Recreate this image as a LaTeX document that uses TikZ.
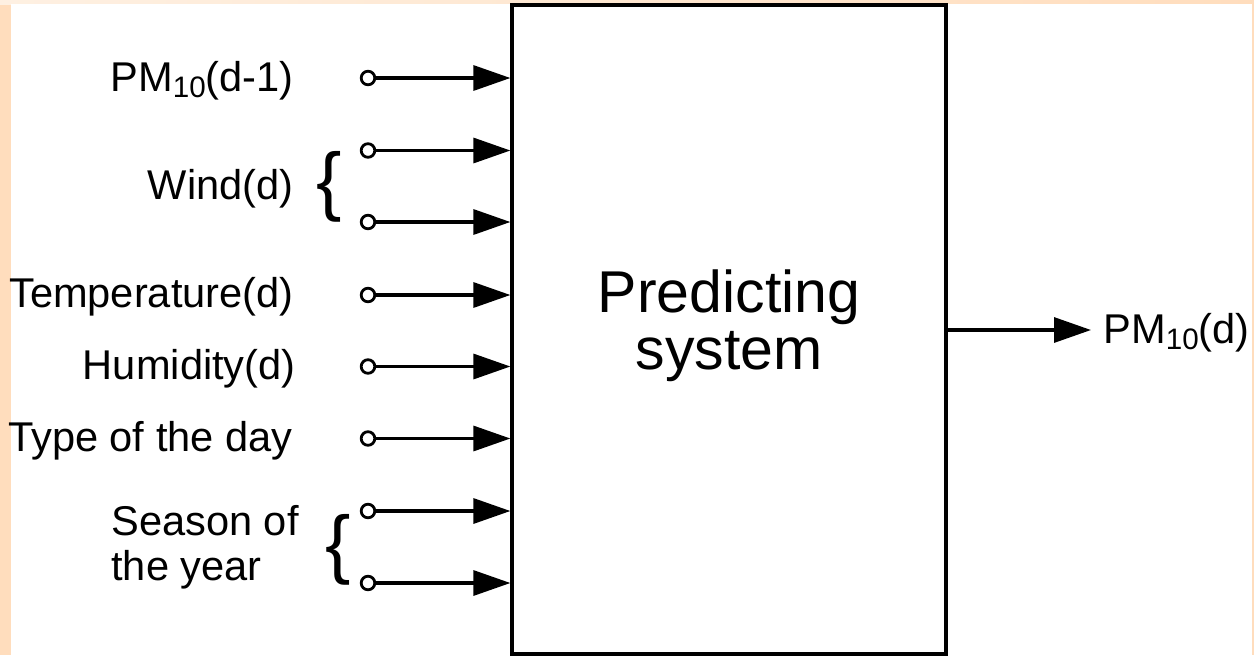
\documentclass[tikz,border=0pt]{standalone}
\usepackage{fontspec}
\setmainfont{Liberation Sans}
\usetikzlibrary{arrows.meta}

\definecolor{peach}{RGB}{255,221,189}
\definecolor{peachlight}{RGB}{254,240,226}

% subscript set a little smaller and lowered
\newcommand\lowsub[1]{\raisebox{-3pt}{\fontsize{14.8}{15}\selectfont #1}}

\tikzset{
  lbl/.style={font=\fontsize{20.8}{24}\selectfont, inner sep=0pt, anchor=base east},
  port/.style={circle, draw, line width=1.4pt, fill=white, inner sep=0pt, minimum size=6.8pt},
  arr/.style={line width=1.6pt, -{Triangle[length=18.5pt,width=12.5pt]}},
  sysbox/.style={draw, line width=1.6pt, inner sep=0pt, minimum width=217pt, minimum height=324.5pt},
  bigbrace/.style={font=\fontsize{38}{38}\selectfont, inner sep=0pt},
}

\begin{document}
\begin{tikzpicture}[x=0.5pt, y=-0.5pt]
\useasboundingbox (0,0) rectangle (1254,655);

% page frame
\fill[peach] (0,0) rectangle (1254,655);
\shade[left color=peachlight, right color=peach] (0,0) rectangle (1254,4);
\fill[white] (11,4) rectangle (1252,655);

% system block
\node[sysbox] (sys) at (729,329.5) {};
\node[font=\fontsize{29.5}{28}\selectfont, inner sep=0pt, anchor=base] (systxt) at (729,312) {Predicting};
\node[font=\fontsize{29.5}{28}\selectfont, inner sep=0pt, anchor=base] (systxt2) at (729,369) {system};

% input ports
\node[port] (p1) at (368,78) {};
\node[port] (p2) at (368,150.5) {};
\node[port] (p3) at (368,222) {};
\node[port] (p4) at (368,295) {};
\node[port] (p5) at (368,366.5) {};
\node[port] (p6) at (368,438.5) {};
\node[port] (p7) at (368,511) {};
\node[port] (p8) at (368,583) {};

\foreach \p in {p1,p2,p3,p4,p5,p6,p7,p8}
  \draw[arr] (\p) -- (\p -| sys.west);

% input labels
\node[lbl] (l1) at (294,91) {PM\lowsub{10}(d-1)};
\node[lbl] (l2) at (294,199) {Wind(d)};
\node[lbl] (l4) at (294,307) {Temperature(d)};
\node[lbl] (l5) at (296,379) {Humidity(d)};
\node[lbl] (l6) at (293,451) {Type of the day};
\node[lbl, anchor=base west] (l7a) at (111,535) {Season of};
\node[lbl, anchor=base west] (l7b) at (111,580) {the year};

% braces grouping paired inputs
\node[bigbrace] (b1) at (329,187) {\{};
\node[bigbrace] (b2) at (338,550) {\{};

% output
\coordinate (outend) at (1091,330);
\draw[arr] (sys.east |- outend) -- (outend);
\node[lbl, anchor=base west] (lout) at (1103,343) {PM\lowsub{10}(d)};
\end{tikzpicture}
\end{document}
